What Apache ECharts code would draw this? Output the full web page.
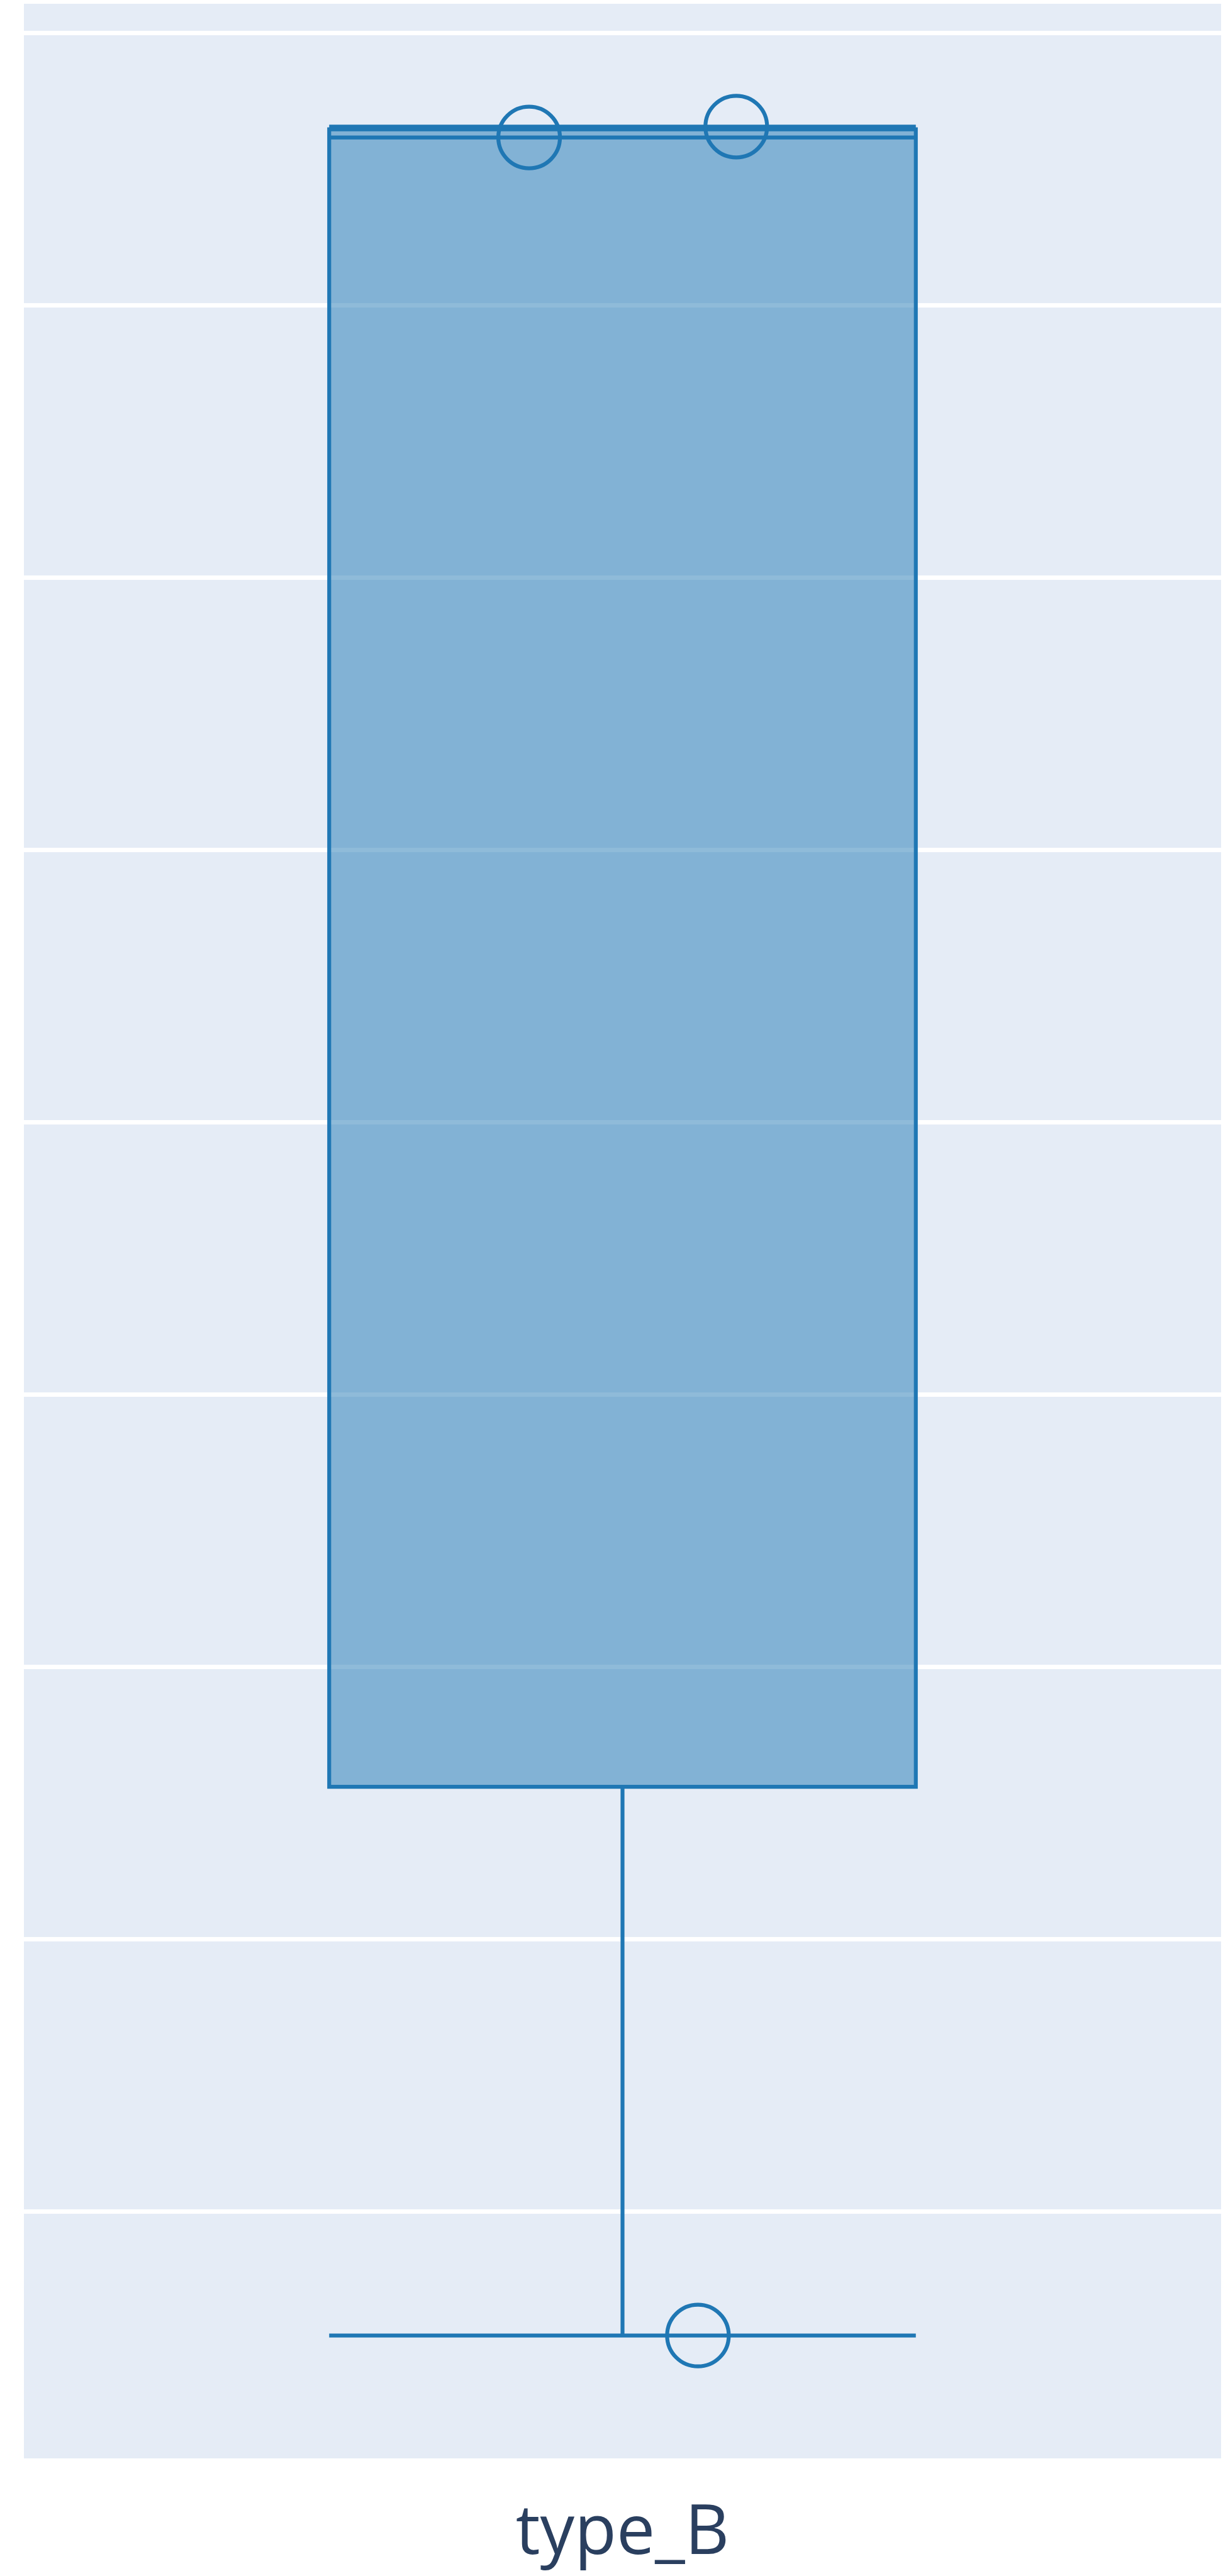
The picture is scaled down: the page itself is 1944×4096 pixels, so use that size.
<!DOCTYPE html>
<html>
<head>
<meta charset="utf-8">
<script src="https://cdn.jsdelivr.net/npm/echarts@6/dist/echarts.min.js"></script>
<style>
  html, body { margin: 0; padding: 0; background: #ffffff; }
  #chart { width: 1944px; height: 4096px; }
</style>
</head>
<body>
<div id="chart"></div>
<script>
// Category shown on the x axis
const categories = ['type_B'];

// Box summary: [lower whisker, Q1, median, Q3, upper whisker]
const boxStats = [5.45, 25.6, 86.16, 86.46, 86.56];

// Individual observations and the horizontal jitter (fraction of the category band) they are drawn at
const pointValues = [86.16, 86.56, 5.45];
const pointJitter = [-0.078, 0.095, 0.063];

// Horizontal grid levels and the visible value range
const gridValues = [10, 20, 30, 40, 50, 60, 70, 80, 90];
const valueRange = [0.94, 91.07];

const BLUE = '#1f77b4';
const TEXT = '#2a3f5f';
const FONT = '"Open Sans", verdana, arial, sans-serif';

const chart = echarts.init(document.getElementById('chart'), null, { renderer: 'canvas' });

chart.setOption({
  animation: false,
  backgroundColor: '#ffffff',
  grid: {
    show: true,
    left: 38,
    top: 6,
    width: 1903,
    height: 3903,
    backgroundColor: '#E5ECF6',
    borderWidth: 0
  },
  xAxis: [
    {
      type: 'category',
      data: categories,
      axisLine: { show: false },
      axisTick: { show: false },
      splitLine: { show: false },
      axisLabel: {
        margin: 66,
        fontSize: 109,
        fontFamily: FONT,
        color: TEXT
      }
    },
    {
      // offset axis used to spread the individual points across the band
      type: 'value',
      min: -0.5,
      max: 0.5,
      show: false
    }
  ],
  yAxis: {
    type: 'value',
    min: valueRange[0],
    max: valueRange[1],
    axisLine: { show: false },
    axisTick: { show: false },
    axisLabel: { show: false },
    splitLine: { show: false }
  },
  series: [
    {
      type: 'boxplot',
      xAxisIndex: 0,
      yAxisIndex: 0,
      boxWidth: ['49%', '49%'],
      data: [boxStats],
      itemStyle: {
        color: 'rgba(31,119,180,0.5)',
        borderColor: BLUE,
        borderWidth: 6.2
      },
      emphasis: { disabled: true },
      markLine: {
        silent: true,
        z: 1,
        symbol: 'none',
        label: { show: false },
        lineStyle: { color: '#ffffff', width: 6.8, type: 'solid', opacity: 1 },
        emphasis: { disabled: true },
        data: gridValues.map(v => ({ yAxis: v }))
      },
      z: 2
    },
    {
      type: 'scatter',
      xAxisIndex: 1,
      yAxisIndex: 0,
      symbol: 'circle',
      symbolSize: 98,
      data: pointValues.map((v, i) => [pointJitter[i], v]),
      itemStyle: {
        color: 'rgba(0,0,0,0)',
        borderColor: BLUE,
        borderWidth: 6.2,
        opacity: 1
      },
      emphasis: { disabled: true },
      z: 3
    }
  ]
});
</script>
</body>
</html>
